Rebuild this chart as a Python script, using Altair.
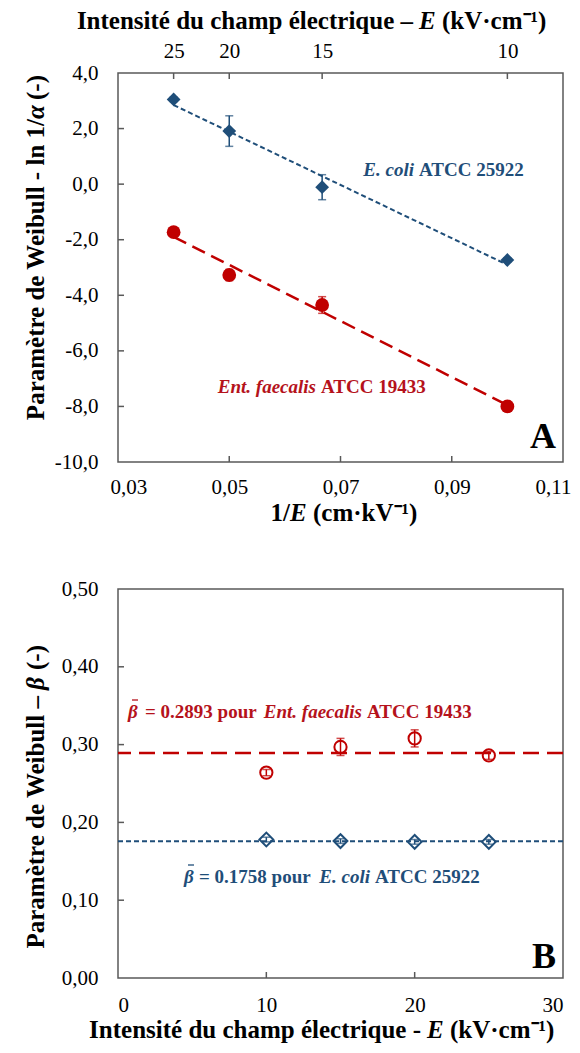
import altair as alt
import pandas as pd

# ---------------- Panel A data ----------------
inv_E = [0.04, 0.05, 0.0667, 0.1]            # 1/E (cm·kV-1)
ecoli_ln = [3.05, 1.91, -0.11, -2.73]
ecoli_ln_err = [0.08, 0.55, 0.45, 0.08]
ent_ln = [-1.73, -3.27, -4.35, -8.00]
ent_ln_err = [0.10, 0.20, 0.30, 0.10]

xA_ticks = [0.03, 0.05, 0.07, 0.09, 0.11]
yA_ticks = [-10, -8, -6, -4, -2, 0, 2, 4]
xA_inner = [0.05, 0.07, 0.09]
yA_inner = [-8, -6, -4, -2, 0, 2]

# ---------------- Panel B data ----------------
E_vals = [10, 15, 20, 25]
ent_beta = [0.264, 0.297, 0.308, 0.286]
ent_beta_err = [0.004, 0.011, 0.011, 0.005]
ecoli_beta = [0.178, 0.176, 0.175, 0.175]
ecoli_beta_err = [0.003, 0.003, 0.003, 0.003]
ent_beta_mean = [0.2893]
ecoli_beta_mean = [0.1758]

xB_ticks = [0, 10, 20, 30]
yB_ticks = [0.0, 0.1, 0.2, 0.3, 0.4, 0.5]
xB_inner = [10, 20]
yB_inner = [0.1, 0.2, 0.3, 0.4]

# ---------------- style ----------------
FONT = "Liberation Serif"
BLUE = "#1F4E79"
RED = "#C00000"
RED_TXT = "#B5121B"
FRAME = "#595959"
W, H = 445, 389
TITLE_SIZE = 25
LAB_SIZE = 19
SPW = 6  # width of a space at title size


def comma_expr(fmt):
    return "replace(replace(format(datum.value, '" + fmt + "'), '.', ','), '\u2212', '-')"


def txt(s, x, y, size=LAB_SIZE, color="black", style="normal", align="center", angle=0, weight="bold"):
    return alt.Chart(pd.DataFrame({"t": [s]})).mark_text(
        font=FONT, fontSize=size, fontWeight=weight, fontStyle=style, color=color,
        align=align, baseline="middle", angle=angle,
    ).encode(x=alt.value(x), y=alt.value(y), text="t:N")


def beta_bar(x, y, color):
    # italic beta with a bar (mean) above it
    return [txt("β", x, y, LAB_SIZE, color=color, style="italic", align="left"),
            alt.Chart(pd.DataFrame({"t": [0]})).mark_rule(color=color, strokeWidth=1.3).encode(
                x=alt.value(x + 4), x2=alt.value(x + 10), y=alt.value(y - 12))]


def errbars(df, xf, yf, ef, color, xs, ys, xax, yax, cap=8):
    d = df.copy()
    d["lo"] = d[yf] - d[ef]
    d["hi"] = d[yf] + d[ef]
    base = alt.Chart(d)
    rule = base.mark_rule(color=color, strokeWidth=1.5).encode(
        x=alt.X(xf + ":Q", scale=xs, axis=xax),
        y=alt.Y("lo:Q", scale=ys, axis=yax), y2="hi:Q")
    caps = [base.mark_tick(color=color, orient="horizontal", size=cap, thickness=1.5).encode(
        x=alt.X(xf + ":Q", scale=xs, axis=xax),
        y=alt.Y(f + ":Q", scale=ys, axis=yax)) for f in ("lo", "hi")]
    return [rule] + caps


# ================= Panel A =================
xA = alt.Scale(domain=[0.03, 0.11], nice=False, zero=False)
yA = alt.Scale(domain=[-10, 4], nice=False, zero=False)
axAx = alt.Axis(values=xA_ticks, labelExpr=comma_expr(".2f"), title=None, labelPadding=14,
                labelFlush=True, labelFlushOffset=8)
axAy = alt.Axis(values=yA_ticks, labelExpr=comma_expr(".1f"), title=None, labelPadding=20)

dfA = pd.DataFrame({"x": inv_E, "eco": ecoli_ln, "eco_e": ecoli_ln_err,
                    "ent": ent_ln, "ent_e": ent_ln_err})

XA = alt.X("x:Q", scale=xA, axis=axAx)

lineA_eco = alt.Chart(dfA).transform_regression("x", "eco").mark_line(
    color=BLUE, strokeWidth=2, strokeDash=[5, 3]).encode(
    x=XA, y=alt.Y("eco:Q", scale=yA, axis=axAy))
lineA_ent = alt.Chart(dfA).transform_regression("x", "ent").mark_line(
    color=RED, strokeWidth=2.5, strokeDash=[14, 7]).encode(
    x=XA, y=alt.Y("ent:Q", scale=yA, axis=axAy))

errA = errbars(dfA, "x", "eco", "eco_e", BLUE, xA, yA, axAx, axAy) + \
    errbars(dfA, "x", "ent", "ent_e", RED, xA, yA, axAx, axAy)

ptsA_eco = alt.Chart(dfA).mark_point(shape="diamond", filled=True, size=190, color=BLUE, opacity=1).encode(
    x=XA, y=alt.Y("eco:Q", scale=yA, axis=axAy))
ptsA_ent = alt.Chart(dfA).mark_point(shape="circle", filled=True, size=190, color=RED, opacity=1).encode(
    x=XA, y=alt.Y("ent:Q", scale=yA, axis=axAy))

ticksA_left = alt.Chart(pd.DataFrame({"v": yA_inner})).mark_rule(color=FRAME, strokeWidth=1.5).encode(
    y=alt.Y("v:Q", scale=yA, axis=axAy), x=alt.value(0), x2=alt.value(6))
ticksA_bottom = alt.Chart(pd.DataFrame({"v": xA_inner})).mark_rule(color=FRAME, strokeWidth=1.5).encode(
    x=alt.X("v:Q", scale=xA, axis=axAx), y=alt.value(H), y2=alt.value(H - 6))

TA = 295
textsA = [
    # top title: Intensité du champ électrique – E (kV·cm-1)
    txt("Intensité du champ électrique –", TA, -52, TITLE_SIZE, align="right"),
    txt("E", TA + SPW, -52, TITLE_SIZE, style="italic", align="left"),
    txt("(kV·cm⁻¹)", TA + SPW + 17 + SPW, -52, TITLE_SIZE, align="left"),
    # bottom title: 1/E (cm·kV-1)
    txt("1/", 172, H + 51, TITLE_SIZE, align="right"),
    txt("E", 172, H + 51, TITLE_SIZE, style="italic", align="left"),
    txt("(cm·kV⁻¹)", 172 + 17 + SPW, H + 51, TITLE_SIZE, align="left"),
    # y title
    txt("Paramètre de Weibull - ln 1/", -82, 46, TITLE_SIZE, align="right", angle=270),
    txt("α", -82, 46, TITLE_SIZE, style="italic", align="left", angle=270),
    txt("(-)", -82, 46 - 13 - SPW, TITLE_SIZE, align="left", angle=270),
    # species labels
    txt("E. coli", 296, 97, LAB_SIZE, color=BLUE, style="italic", align="right"),
    txt("ATCC 25922", 301, 97, LAB_SIZE, color=BLUE, align="left"),
    txt("Ent. faecalis", 198, 314, LAB_SIZE, color=RED_TXT, style="italic", align="right"),
    txt("ATCC 19433", 203, 314, LAB_SIZE, color=RED_TXT, align="left"),
    txt("A", 425, 364, 36),
]

mainA = alt.layer(lineA_eco, lineA_ent, *errA, ptsA_eco, ptsA_ent,
                  ticksA_left, ticksA_bottom, *textsA)

topA = alt.Chart(pd.DataFrame({"v": inv_E})).mark_rule(color=FRAME, strokeWidth=1.5).encode(
    x=alt.X("v:Q", scale=xA, axis=alt.Axis(orient="top", values=inv_E, title=None,
                                         labelExpr="format(1/datum.value, '.0f')",
                                         labelPadding=12)),
    y=alt.value(0), y2=alt.value(6))

panelA = alt.layer(mainA, topA).resolve_scale(x="independent").properties(width=W, height=H)

# ================= Panel B =================
xB = alt.Scale(domain=[0, 30], nice=False, zero=False)
yB = alt.Scale(domain=[0, 0.5], nice=False, zero=False)
axBx = alt.Axis(values=xB_ticks, format="d", title=None, labelPadding=16)
axBy = alt.Axis(values=yB_ticks, labelExpr=comma_expr(".2f"), title=None, labelPadding=20)

dfB = pd.DataFrame({"E": E_vals, "ent": ent_beta, "ent_e": ent_beta_err,
                    "eco": ecoli_beta, "eco_e": ecoli_beta_err})
XB = alt.X("E:Q", scale=xB, axis=axBx)

meanB_ent = alt.Chart(pd.DataFrame({"m": ent_beta_mean})).mark_rule(
    color=RED, strokeWidth=2.5, strokeDash=[16, 8]).encode(y=alt.Y("m:Q", scale=yB, axis=axBy))
meanB_eco = alt.Chart(pd.DataFrame({"m": ecoli_beta_mean})).mark_rule(
    color=BLUE, strokeWidth=2, strokeDash=[5, 3]).encode(y=alt.Y("m:Q", scale=yB, axis=axBy))

errB = errbars(dfB, "E", "ent", "ent_e", RED, xB, yB, axBx, axBy) + \
    errbars(dfB, "E", "eco", "eco_e", BLUE, xB, yB, axBx, axBy)

ptsB_ent = alt.Chart(dfB).mark_point(shape="circle", filled=False, size=150, color=RED,
                                     strokeWidth=2, opacity=1).encode(
    x=XB, y=alt.Y("ent:Q", scale=yB, axis=axBy))
ptsB_eco = alt.Chart(dfB).mark_point(shape="diamond", filled=False, size=190, color=BLUE,
                                     strokeWidth=2, opacity=1).encode(
    x=XB, y=alt.Y("eco:Q", scale=yB, axis=axBy))

ticksB_left = alt.Chart(pd.DataFrame({"v": yB_inner})).mark_rule(color=FRAME, strokeWidth=1.5).encode(
    y=alt.Y("v:Q", scale=yB, axis=axBy), x=alt.value(0), x2=alt.value(6))
ticksB_bottom = alt.Chart(pd.DataFrame({"v": xB_inner})).mark_rule(color=FRAME, strokeWidth=1.5).encode(
    x=alt.X("v:Q", scale=xB, axis=axBx), y=alt.value(H), y2=alt.value(H - 6))

TB = 303
YB_T = 107
textsB = [
    txt("Intensité du champ électrique -", TB, H + 52, TITLE_SIZE, align="right"),
    txt("E", TB + SPW, H + 52, TITLE_SIZE, style="italic", align="left"),
    txt("(kV·cm⁻¹)", TB + SPW + 17 + SPW, H + 52, TITLE_SIZE, align="left"),
    txt("Paramètre de Weibull –", -82, YB_T, TITLE_SIZE, align="right", angle=270),
    txt("β", -82, YB_T - SPW, TITLE_SIZE, style="italic", align="left", angle=270),
    txt("(-)", -82, YB_T - SPW - 14 - SPW, TITLE_SIZE, align="left", angle=270),
    # red annotation
    *beta_bar(10, 123, RED_TXT),
    txt("= 0.2893 pour", 27, 123, LAB_SIZE, color=RED_TXT, align="left"),
    txt("Ent. faecalis", 244, 123, LAB_SIZE, color=RED_TXT, style="italic", align="right"),
    txt("ATCC 19433", 249, 123, LAB_SIZE, color=RED_TXT, align="left"),
    # blue annotation
    *beta_bar(66, 288, BLUE),
    txt("= 0.1758 pour", 81, 288, LAB_SIZE, color=BLUE, align="left"),
    txt("E. coli", 252, 288, LAB_SIZE, color=BLUE, style="italic", align="right"),
    txt("ATCC 25922", 257, 288, LAB_SIZE, color=BLUE, align="left"),
    txt("B", 426, 368, 36),
]

panelB = alt.layer(meanB_ent, meanB_eco, *errB, ptsB_ent, ptsB_eco,
                   ticksB_left, ticksB_bottom, *textsB).properties(width=W, height=H)

chart = alt.vconcat(panelA, panelB, spacing=50).properties(
    padding={"left": 15, "top": 0, "right": 0, "bottom": 0},
    background="white",
).configure_view(stroke=FRAME, strokeWidth=1.5).configure_axis(
    domain=False, ticks=False, grid=False, labelFont=FONT, labelFontSize=21,
    labelColor="black"
)

chart.save("out.html", embed_options={"renderer": "svg", "actions": False})
